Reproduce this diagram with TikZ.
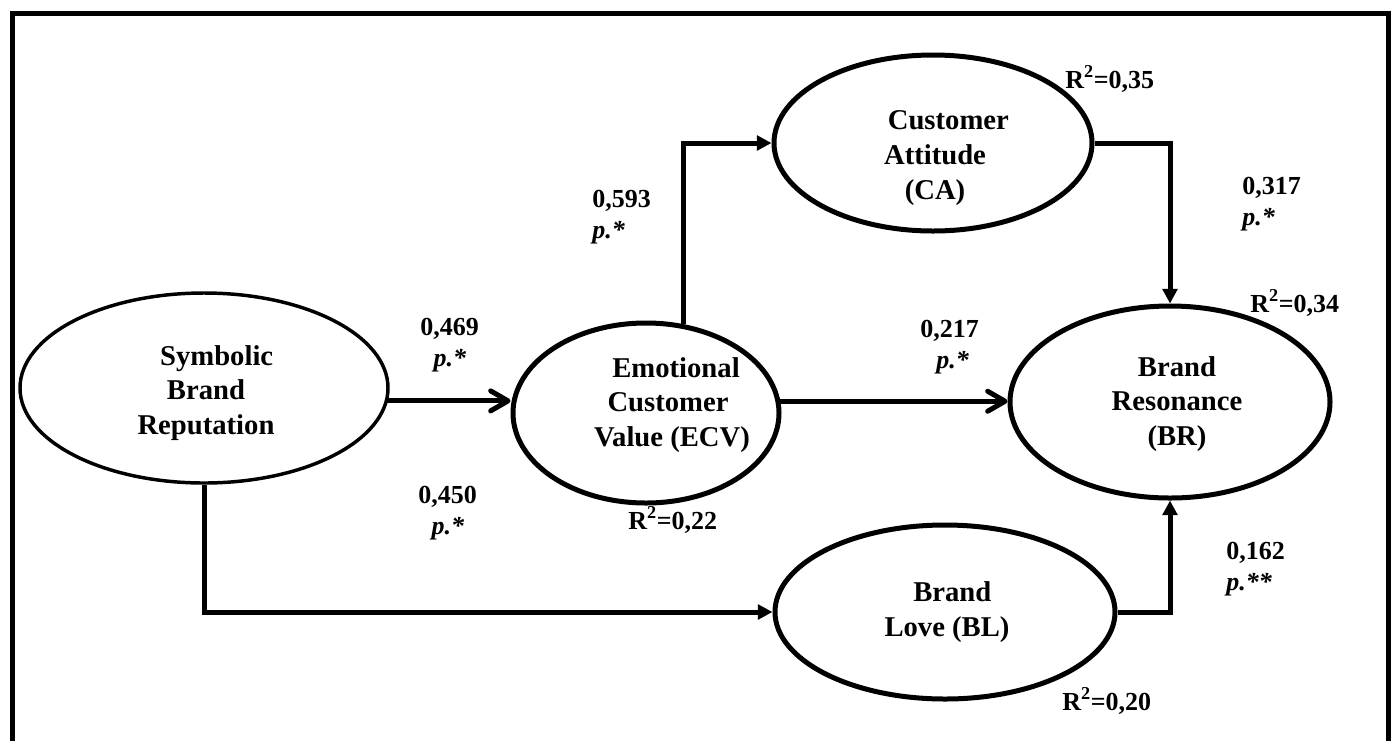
\documentclass[tikz,border=0pt]{standalone}
\usepackage{fontspec}
\setmainfont{Liberation Serif}
\usetikzlibrary{positioning, arrows.meta, shapes.geometric}

\begin{document}
\begin{tikzpicture}[
  x=0.75pt, y=-0.75pt,
  latent/.style={ellipse, draw, line width=3.75pt, inner sep=0pt},
  ltext/.style={inner sep=0pt, align=center, font=\fontsize{21.5}{26}\selectfont\bfseries},
  coef/.style={anchor=north west, inner sep=0pt, align=left,
    font=\fontsize{19.5}{23}\selectfont\bfseries},
  rsq/.style={anchor=base west, inner sep=0pt,
    font=\fontsize{19.5}{23}\selectfont\bfseries},
  link/.style={line width=3.75pt, -{Triangle[length=11pt, width=11pt]}},
  barb/.style={line width=3.75pt, line cap=round, -{Straight Barb[length=13pt, width=15pt, round]}}
]
\useasboundingbox (0,0) rectangle (1398,740);

% Frame
\draw[line width=3.75pt] (12,13) rectangle (1388,770);

% Constructs
\node[latent, line width=2.6pt, minimum width=276pt, minimum height=142.5pt] (SBR) at (204,388) {};
\node[latent, minimum width=199.5pt, minimum height=135pt] (ECV) at (646,413) {};
\node[latent, minimum width=238.5pt, minimum height=132pt] (CA) at (933,143) {};
\node[latent, minimum width=240pt, minimum height=144pt] (BR) at (1170,402) {};
\node[latent, minimum width=255pt, minimum height=130.5pt] (BL) at (945,612) {};

% Construct names
\node[ltext] (SBRt) at (206,393) {\hspace*{16pt}Symbolic\\Brand\\Reputation};
\node[ltext] (ECVt) at (668,405) {\hspace*{12pt}Emotional\\Customer\\\hspace*{6pt}Value (ECV)};
\node[ltext] (CAt) at (935,158) {\hspace*{20pt}Customer\\Attitude\\(CA)};
\node[ltext] (BRt) at (1177,404) {Brand\\Resonance\\(BR)};
\node[ltext] (BLt) at (947,612) {\hspace*{8pt}Brand\\Love (BL)};

% Paths
\draw[barb] (SBR.-4) -- (SBR.-4 -| ECV.west);
\draw[barb] (ECV.5) -- (ECV.5 -| BR.west);
\draw[link] (ECV.67) |- (CA.west);
\draw[link] (CA.east) -| (BR.north);
\draw[link] (SBR.south) |- (BL.west);
\draw[link] (BL.east) -| (BR.south);

% Coefficients
\node[coef] (c593) at (592,190) {0,593\\\textit{p.*}};
\node[coef] (c469) at (420,318) {0,469\\\hspace*{10pt}\textit{p.*}};
\node[coef] (c217) at (920,320) {0,217\\\hspace*{12pt}\textit{p.*}};
\node[coef] (c317) at (1242,177) {0,317\\\textit{p.*}};
\node[coef] (c450) at (418,486) {0,450\\\hspace*{10pt}\textit{p.*}};
\node[coef] (c162) at (1226,542) {0,162\\\textit{p.**}};

% R squared
\node[rsq] (r35) at (1065,88) {R\textsuperscript{2}=0,35};
\node[rsq] (r34) at (1250,312) {R\textsuperscript{2}=0,34};
\node[rsq] (r22) at (628,529) {R\textsuperscript{2}=0,22};
\node[rsq] (r20) at (1062,710) {R\textsuperscript{2}=0,20};

\end{tikzpicture}
\end{document}
